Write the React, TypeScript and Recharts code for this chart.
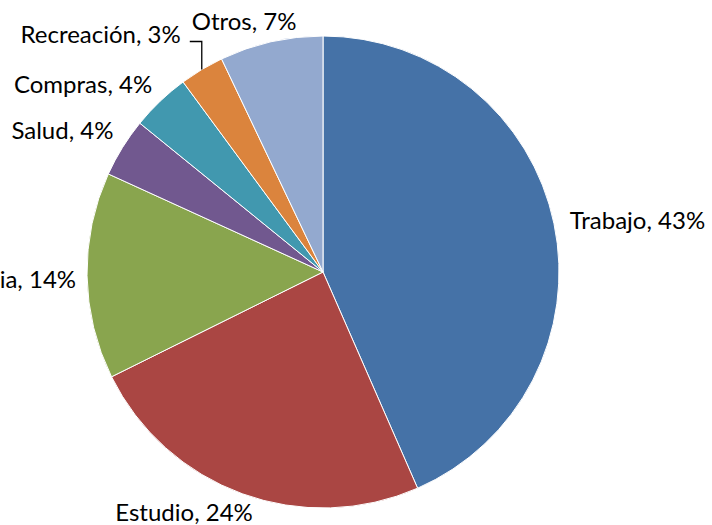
import { PieChart, Pie, Cell } from 'recharts'

const categories = ['Trabajo', 'Estudio', 'Familia', 'Salud', 'Compras', 'Recreación', 'Otros']
const shares = [43, 24, 14, 4, 4, 3, 7]
const colors = ['#4572A7', '#AA4643', '#89A54E', '#71588F', '#4198AF', '#DB843D', '#93A9CF']

const data = categories.map((name, i) => ({ name, value: shares[i] }))

const RAD = Math.PI / 180

// placement tweaks per label, roughly mimicking the "best fit" of the original
const labelPos: Record<string, { anchor: 'start' | 'middle' | 'end'; dx: number; dy: number }> = {
  Trabajo: { anchor: 'start', dx: 3, dy: -2 },
  Estudio: { anchor: 'end', dx: 15, dy: 6 },
  Familia: { anchor: 'end', dx: 2, dy: 3 },
  Salud: { anchor: 'end', dx: 2, dy: -11 },
  Compras: { anchor: 'end', dx: 1, dy: -8 },
  'Recreación': { anchor: 'end', dx: 0, dy: 0 },
  Otros: { anchor: 'middle', dx: -24, dy: -9 },
}

function PieLabel(props: any) {
  const { cx, cy, midAngle, outerRadius, name, value } = props
  const cfg = labelPos[name]
  const text = `${name}, ${value}%`
  const style = { fontFamily: 'Lato, sans-serif', fontSize: 24, fill: '#000' }

  if (name === 'Recreación') {
    // leader line from the slice edge up and to the left
    const ex = cx + outerRadius * Math.cos(-midAngle * RAD)
    const ey = cy + outerRadius * Math.sin(-midAngle * RAD)
    const ly = ey - 28
    return (
      <g>
        <polyline points={`${ex},${ey} ${ex},${ly} ${ex - 12},${ly}`}
          fill="none" stroke="#000" strokeWidth={1.3} />
        <text x={ex - 21} y={ly - 8} textAnchor="end" dominantBaseline="central" style={style}>
          {text}
        </text>
      </g>
    )
  }

  const r = outerRadius + 13
  const x = cx + r * Math.cos(-midAngle * RAD) + cfg.dx
  const y = cy + r * Math.sin(-midAngle * RAD) + cfg.dy
  return (
    <text x={x} y={y} textAnchor={cfg.anchor} dominantBaseline="central" style={style}>
      {text}
    </text>
  )
}

export default function App() {
  return (
    <div style={{ position: 'absolute', left: 0, top: 0, width: 712, height: 525, overflow: 'hidden', background: '#fff' }}>
      <PieChart width={712} height={525} margin={{ top: 0, right: 0, bottom: 0, left: 0 }}>
        <Pie data={data} dataKey="value" nameKey="name"
          cx={323} cy={272} outerRadius={236}
          startAngle={90} endAngle={-270}
          stroke="#ffffff" strokeWidth={1}
          label={PieLabel} labelLine={false}
          isAnimationActive={false}>
          {data.map((d, i) => (
            <Cell key={d.name} fill={colors[i]} />
          ))}
        </Pie>
      </PieChart>
    </div>
  )
}
